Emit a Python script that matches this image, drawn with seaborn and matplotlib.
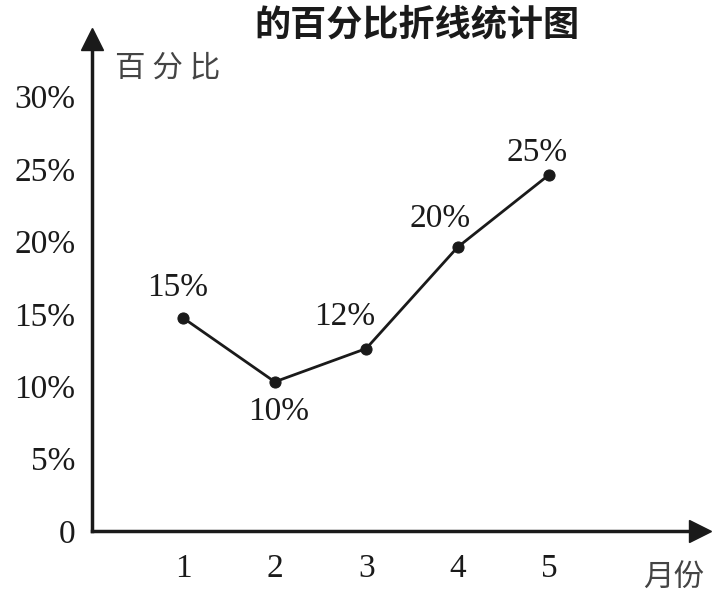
import matplotlib
matplotlib.use('Agg')
import matplotlib.pyplot as plt
import seaborn as sns

# 数据
months = [1, 2, 3, 4, 5]
percent = [14.7, 10.3, 12.6, 19.6, 24.6]
point_labels = ['15%', '10%', '12%', '20%', '25%']
label_offsets = [(-6, 30), (4, -30), (-22, 32), (-18, 28), (-12, 22)]
y_ticks = [0, 5, 10, 15, 20, 25, 30]
y_tick_labels = ['0', '5%', '10%', '15%', '20%', '25%', '30%']

INK = '#1a1a1a'
SERIF = ['Liberation Serif', 'DejaVu Serif']
CJK = ['Noto Sans CJK SC', 'DejaVu Sans']

sns.set_theme(style='white')
plt.rcParams['font.family'] = SERIF

fig = plt.figure(figsize=(7.21, 6.04), dpi=100)
ax = fig.add_axes([0.1276, 0.1209, 0.843, 0.815])

sns.lineplot(x=months, y=percent, ax=ax, color=INK, linewidth=2.0,
             marker='o', markersize=8, markeredgecolor=INK)

for x, y, lab, off in zip(months, percent, point_labels, label_offsets):
    ax.annotate(lab, (x, y), xytext=off, textcoords='offset pixels',
                ha='center', va='center', fontsize=24, color=INK,
                family=SERIF)

ax.set_xlim(0, 6.65)
ax.set_ylim(0, 34.0)
ax.set_xticks(months)
ax.set_xticklabels([str(m) for m in months])
ax.set_yticks(y_ticks)
ax.set_yticklabels(y_tick_labels)
ax.tick_params(axis='both', direction='in', length=8, width=2, colors=INK,
               labelsize=24)
ax.tick_params(axis='x', pad=16)
ax.tick_params(axis='y', pad=12)

for side in ['top', 'right']:
    ax.spines[side].set_visible(False)
for side in ['left', 'bottom']:
    ax.spines[side].set_color(INK)
    ax.spines[side].set_linewidth(2.5)

# 箭头
ax.plot(1, 0, marker='>', markersize=16, color=INK, transform=ax.transAxes,
        clip_on=False)
ax.plot(0, 1, marker='^', markersize=16, color=INK, transform=ax.transAxes,
        clip_on=False)

fig.text(0.578, 0.958, '的百分比折线统计图', ha='center', va='center',
         fontsize=26, fontweight='bold', color=INK, family=CJK)
fig.text(0.16, 0.887, '百 分 比', ha='left', va='center', fontsize=22,
         color='#444444', family=CJK)
fig.text(0.935, 0.043, '月份', ha='center', va='center', fontsize=22,
         color='#444444', family=CJK)

fig.savefig('out.png', dpi=100, facecolor='white')
